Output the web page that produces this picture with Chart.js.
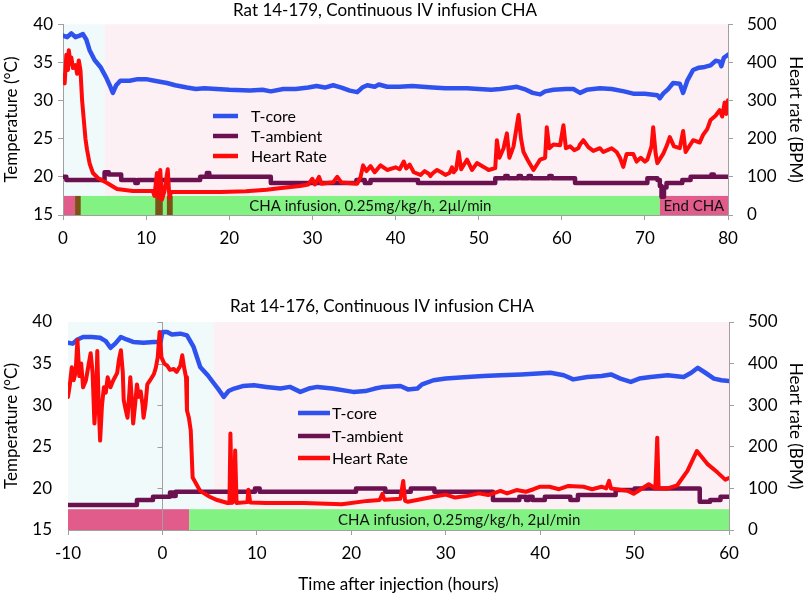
<!DOCTYPE html>
<html><head><meta charset="utf-8">
<script src="https://cdn.jsdelivr.net/npm/chart.js@4.4.0/dist/chart.umd.min.js"></script>
<style>
html,body{margin:0;padding:0;background:#fff;width:806px;height:595px;overflow:hidden}
canvas{position:absolute;left:0}
#c1{top:0} #c2{top:265px}
</style></head><body>
<canvas id="c1" width="806" height="265"></canvas>
<canvas id="c2" width="806" height="330"></canvas>
<script>
// ---------------- shared ----------------
const tempTicks = [15, 20, 25, 30, 35, 40];
const hrTicks = [0, 100, 200, 300, 400, 500];
const legendLabels = ['T-core', 'T-ambient', 'Heart Rate'];
const barTopBpm = 50;
const infusionLabel = 'CHA infusion, 0.25mg/kg/h, 2µl/min';
const endLabel = 'End CHA';

// ---------------- Panel A: Rat 14-179 ----------------
const aTitle = 'Rat 14-179, Continuous IV infusion CHA';
const aXTicks = [0, 10, 20, 30, 40, 50, 60, 70, 80];
const aCoreT = [0,0.5,1,1.5,2,2.4,2.8,3.2,3.8,4.5,5.2,5.7,6.0,6.4,6.9,8,9,10,11,12.5,13.5,14.9,16,17,18.5,20,22.5,24,25,26.5,28,29.5,30.5,31.5,32.5,33.5,34.5,35.4,36,36.6,37.5,38,39,40.5,42,44.5,46,48.6,50,51.5,52.6,54,54.6,55.5,56.5,57.4,58,59,60.5,61.4,62.2,63,64.6,66,67.5,68.6,70,71.5,71.8,72.2,72.8,73.4,74.2,74.6,75.1,75.8,76.5,77.2,77.9,78.5,79,79.2,79.5,80];
const aCore  = [38.5,38.3,38.8,38.3,38.5,38.7,38.0,36.6,35.3,34.4,33.0,31.8,31.0,32.0,32.6,32.6,32.8,32.8,32.6,32.3,32.0,31.7,31.5,31.6,31.5,31.4,31.3,31.4,31.2,31.5,31.5,31.7,31.9,31.7,32.0,31.7,31.3,31.1,31.7,32.0,31.8,32.1,31.8,31.8,31.9,31.7,31.6,31.6,31.5,31.4,31.5,31.7,31.8,31.5,31.0,30.8,31.2,31.4,31.5,31.5,31.0,31.4,31.6,31.5,31.2,30.9,30.9,30.7,30.3,30.9,31.5,32.3,32.2,31.0,32.6,34.0,34.3,34.4,34.6,35.2,35.1,34.5,35.6,36.0];
const aAmbT = [0,0.4,5,5.5,7,8.7,9,16.5,17.3,17.6,25,35.3,36.3,37,42.7,52,53.2,53.5,54.8,55.1,56,56.3,58.5,58.8,61.6,70.3,71.5,71.8,72,72.3,72.6,74.5,75.5,78,78.3,80];
const aAmb  = [20.0,19.6,20.6,20.3,19.6,19.2,19.6,20.0,20.5,20.0,19.2,19.6,19.2,19.6,19.2,19.8,20.1,19.8,20.1,19.8,20.1,19.8,20.1,19.8,19.2,19.8,19.6,18.8,17.4,18.6,19.2,19.6,20.0,20.3,20.0,20.0];
const aHrT = [0,0.2,0.4,0.6,0.7,0.9,1.0,1.2,1.5,1.7,1.9,2.1,2.3,2.5,2.7,2.9,3.2,3.6,4.2,5.3,6.5,8.4,10.8,11.0,11.3,11.5,11.7,11.9,12.2,12.6,12.8,13.0,16,19,22,24.5,26,28.5,29.5,30,30.3,30.8,31.1,32.5,33,33.5,35.4,35.8,36.1,36.5,37,37.5,38.2,39,40,40.5,41,41.3,41.7,42.2,43,43.5,44,44.2,44.5,45,45.5,46,46.5,46.8,47,47.3,47.6,47.9,48.6,49.2,49.8,50.6,51.2,52,52.2,52.5,53,53.4,53.7,54.2,54.8,55.1,55.4,56,56.6,57.1,57.4,58,58.2,58.5,59,59.8,60.2,60.5,61,61.5,62,62.2,62.6,63.2,63.8,64.6,65,65.5,66,66.6,67,67.4,67.8,68.6,69,69.5,70,70.3,70.8,71,71.3,71.5,72.2,72.6,73,73.5,74.2,74.6,74.9,75.8,76.6,77,77.5,77.9,78.5,79,79.3,79.6,79.8,80];
const aHr  = [366,345,420,380,432,395,413,385,393,370,405,380,300,250,200,170,135,110,97,84,68,63,63,50,110,45,118,40,62,120,45,60,60,60,62,66,70,76,80,95,80,100,82,86,100,85,82,100,130,115,128,112,130,118,125,120,140,122,132,112,105,115,108,102,110,118,112,105,110,125,112,120,165,120,145,118,136,126,118,123,196,150,175,214,150,180,262,200,165,140,118,135,145,150,230,175,185,183,235,175,180,170,175,185,196,178,168,175,165,170,175,165,150,126,160,160,140,150,140,145,180,230,160,136,160,180,204,180,175,220,165,196,190,210,225,249,260,275,258,295,265,301];
const aPhases = [[0, 5, 'pre'], [5, 80, 'post']];
const aBars = [[0, 1.45, 'off'], [1.45, 2.15, 'bolus'], [2.15, 71.8, 'cha'], [11.1, 12.0, 'bolus'], [12.5, 13.2, 'bolus'], [71.8, 80, 'off']];
const aBarText = [[infusionLabel, 2.15, 71.8], [endLabel, 71.8, 80]];

// ---------------- Panel B: Rat 14-176 ----------------
const bTitle = 'Rat 14-176, Continuous IV infusion CHA';
const bXTicks = [-10, 0, 10, 20, 30, 40, 50, 60];
const bCoreT = [-10,-9.5,-9,-8.4,-7.5,-6.6,-6,-5.5,-5,-4.4,-3.8,-3.1,-2,-0.9,-0.2,0,0.5,1,1.9,2.6,3.3,4.0,4.8,5.4,6,6.5,7,7.6,8.5,9.7,11,12.5,13.5,14.6,15.5,16.4,18,20.2,21.5,22.5,23.4,25.2,26,27,27.5,28.7,30,32.3,34,35.8,38,41.1,42.5,43.5,45,46.5,47.5,48.5,49.6,50.5,51.7,53.5,55.2,56.0,56.7,57.5,58.4,59.2,60];
const bCore  = [37.5,37.4,37.9,38.2,38.2,38.1,37.7,36.9,37.4,38.2,37.9,37.6,37.5,37.6,37.6,38.8,38.8,38.5,38.6,38.4,37.0,34.6,33.6,32.7,31.8,31.0,31.7,32.0,32.3,32.4,32.2,32.0,32.2,31.6,32.0,32.2,32.0,31.6,31.7,32.0,32.2,32.3,31.9,32.0,32.5,33.0,33.2,33.4,33.5,33.6,33.7,33.9,33.6,33.1,33.4,33.5,33.7,33.2,32.8,33.2,33.4,33.6,33.4,33.9,34.5,33.9,33.2,33.0,32.9];
const bAmbT = [-10,-2.7,-1,0.5,0.8,1.1,1.4,9.8,10.3,20.5,23.6,26.3,28.8,35,37.8,38.5,38.8,39.2,40.5,43.2,44,48,50,56.9,58,59.1,60];
const bAmb  = [18.0,18.6,19.0,19.0,19.5,19.1,19.6,20.0,19.6,20.0,19.6,20.0,19.6,18.6,19.0,18.6,19.0,18.6,19.0,18.6,19.2,19.8,20.0,18.4,18.6,19.0,19.0];
const bHrT = [-10,-9.8,-9.6,-9.4,-9.2,-9.0,-8.8,-8.6,-8.4,-8.1,-7.8,-7.6,-7.4,-7.2,-7.0,-6.9,-6.75,-6.6,-6.4,-6.2,-6.0,-5.8,-5.5,-5.2,-4.8,-4.6,-4.4,-4.2,-4.1,-3.9,-3.7,-3.5,-3.4,-3.2,-3.1,-2.9,-2.7,-2.5,-2.3,-2.1,-2.0,-1.8,-1.6,-1.3,-0.9,-0.7,-0.5,-0.3,-0.1,0.2,0.5,0.8,1.2,1.5,1.9,2.1,2.3,2.5,2.6,2.8,3.0,3.2,3.6,4.0,5.0,5.8,6.9,7.1,7.2,7.35,7.6,7.7,7.85,9.0,9.1,9.3,11,15,19,21.7,23,23.3,23.5,25.2,25.5,25.7,26,28.7,30,31,32.3,33.5,34.5,35.8,36.5,37.5,38.5,39.3,40,41,42,43,44.6,45.5,46.5,47,47.3,47.5,49.3,49.9,51.5,52.2,52.4,52.55,53.5,54.5,55.6,56.6,57.7,58.8,59.6,60];
const bHr  = [320,350,391,360,378,457,370,400,343,360,400,425,380,256,330,430,300,215,300,343,330,367,343,360,377,410,432,380,312,290,270,330,367,300,256,300,350,320,333,300,270,300,350,360,375,390,415,476,415,400,395,385,387,380,395,420,390,367,287,270,239,126,110,94,80,72,65,65,232,65,70,191,65,67,97,66,65,65,62,70,72,87,73,75,118,70,68,80,85,78,82,88,84,94,88,96,92,98,104,104,98,106,104,98,104,100,118,100,94,87,110,100,222,100,100,107,142,190,159,138,121,125];
const bPhases = [[-10, 5.4, 'pre'], [5.4, 60, 'post']];
const bBars = [[-10, 2.85, 'off'], [2.85, 60, 'cha']];
const bBarText = [[infusionLabel, 2.85, 60]];

// ---------------- styles ----------------
const FONT = 'Lato, "Open Sans", sans-serif';
const COL = { core: '#2F52EE', amb: '#6B1150', hr: '#FF0A0A', axis: '#A0A0A0', text: '#000' };
const SHADE = { pre: '#F0FAFB', post: '#FCF0F5' };
const BARCOL = { off: '#E25C8B', bolus: '#7A5414', cha: '#82F282' };

const pts = (xs, ys) => xs.map((x, i) => ({ x, y: ys[i] }));
const setTicks = arr => s => { s.ticks = arr.map(v => ({ value: v })); };

const panelPlugin = {
  id: 'panel',
  beforeDraw(chart, args, o) {
    const { ctx, chartArea: a, scales: { x, y1 } } = chart;
    ctx.save();
    o.phases.forEach(([s, e, k]) => {
      const x0 = x.getPixelForValue(s), x1 = x.getPixelForValue(e);
      ctx.fillStyle = SHADE[k];
      ctx.fillRect(x0, a.top, x1 - x0, a.bottom - a.top);
    });
    const yt = y1.getPixelForValue(barTopBpm), yb = y1.getPixelForValue(0);
    o.bars.forEach(([s, e, k]) => {
      const x0 = x.getPixelForValue(s), x1 = x.getPixelForValue(e);
      ctx.fillStyle = BARCOL[k];
      ctx.fillRect(x0, yt, x1 - x0, yb - yt);
    });
    ctx.fillStyle = '#111';
    ctx.font = '15px ' + FONT;
    ctx.textAlign = 'center';
    ctx.textBaseline = 'middle';
    o.barText.forEach(([t, s, e]) => {
      ctx.fillText(t, (x.getPixelForValue(s) + x.getPixelForValue(e)) / 2, (yt + yb) / 2 + 1);
    });
    ctx.restore();
  },
  beforeDatasetsDraw(chart, args, o) {
    if (!o.zeroAxis) return;
    const { ctx, chartArea: a, scales: { x, y } } = chart;
    const px = Math.round(x.getPixelForValue(0)) + 0.5;
    ctx.save();
    ctx.strokeStyle = COL.axis; ctx.lineWidth = 1;
    ctx.beginPath(); ctx.moveTo(px, a.top); ctx.lineTo(px, a.bottom);
    tempTicks.forEach(v => { const py = Math.round(y.getPixelForValue(v)) + 0.5; ctx.moveTo(px - 5, py); ctx.lineTo(px, py); });
    ctx.stroke();
    ctx.restore();
  },
  afterDraw(chart, args, o) {
    const { ctx } = chart;
    ctx.save();
    ctx.fillStyle = COL.text;
    ctx.font = '17px ' + FONT;
    ctx.textAlign = 'center'; ctx.textBaseline = 'middle';
    ctx.fillText(o.title, o.titleX, o.titleY);
    const cols = [COL.core, COL.amb, COL.hr];
    ctx.font = '16px ' + FONT; ctx.textAlign = 'left';
    legendLabels.forEach((t, i) => {
      const yy = o.legY[i];
      ctx.strokeStyle = cols[i]; ctx.lineWidth = 4.5; ctx.lineCap = 'butt';
      ctx.beginPath(); ctx.moveTo(o.legX0, yy); ctx.lineTo(o.legX1, yy); ctx.stroke();
      ctx.fillText(t, o.legTX, yy + 1);
    });
    ctx.restore();
  }
};

function makeChart(id, cfg) {
  const tickFont = { family: FONT, size: 17 };
  return new Chart(document.getElementById(id), {
    type: 'line',
    data: {
      datasets: [
        { label: 'Heart Rate', data: pts(cfg.hrT, cfg.hr), yAxisID: 'y1', borderColor: COL.hr, borderWidth: 4 },
        { label: 'T-ambient', data: pts(cfg.ambT, cfg.amb), yAxisID: 'y', borderColor: COL.amb, borderWidth: 4.5, stepped: true },
        { label: 'T-core', data: pts(cfg.coreT, cfg.core), yAxisID: 'y', borderColor: COL.core, borderWidth: 4.5 }
      ]
    },
    options: {
      responsive: false, animation: false, devicePixelRatio: 1,
      elements: { point: { radius: 0 }, line: { tension: 0, borderJoinStyle: 'round', borderCapStyle: 'round' } },
      layout: { padding: { top: cfg.top, left: 0, right: 0, bottom: 0 } },
      plugins: {
        legend: { display: false }, tooltip: { enabled: false },
        panel: cfg.panel
      },
      scales: {
        x: {
          type: 'linear', min: cfg.xTicks[0], max: cfg.xTicks[cfg.xTicks.length - 1],
          afterBuildTicks: setTicks(cfg.xTicks),
          ticks: { font: tickFont, color: COL.text, padding: cfg.xPad, maxRotation: 0 },
          grid: { drawOnChartArea: false, tickLength: 5, color: COL.axis },
          border: { color: COL.axis },
          title: cfg.xTitle ? { display: true, text: cfg.xTitle, font: { family: FONT, size: 17 }, color: COL.text, padding: { top: 0, bottom: 0 } } : { display: false },
          afterFit: s => { s.height = cfg.xH; }
        },
        y: {
          position: 'left', min: 15, max: 40,
          afterBuildTicks: setTicks(tempTicks),
          ticks: { font: tickFont, color: COL.text, padding: cfg.yPad },
          grid: cfg.leftAxis ? { drawOnChartArea: false, tickLength: 5, color: COL.axis } : { display: false },
          border: { display: cfg.leftAxis, color: COL.axis },
          title: { display: true, text: 'Temperature (°C)', font: { family: FONT, size: 17 }, color: COL.text, padding: { top: 1, bottom: 0 } },
          afterFit: s => { s.width = cfg.left; }
        },
        y1: {
          position: 'right', min: 0, max: 500,
          afterBuildTicks: setTicks(hrTicks),
          ticks: { font: tickFont, color: COL.text, padding: 14 },
          grid: { drawOnChartArea: false, tickLength: 5, color: COL.axis },
          border: { color: COL.axis },
          title: { display: true, text: 'Heart rate (BPM)', font: { family: FONT, size: 17 }, color: COL.text, padding: { top: 0, bottom: 0 } },
          afterFit: s => { s.width = 806 - cfg.right; }
        }
      }
    },
    plugins: [panelPlugin]
  });
}

makeChart('c1', {
  coreT: aCoreT, core: aCore, ambT: aAmbT, amb: aAmb, hrT: aHrT, hr: aHr, xTicks: aXTicks,
  top: 24, left: 63, right: 728, xH: 50, xPad: 8, yPad: 5, leftAxis: true, xTitle: null,
  panel: { phases: aPhases, bars: aBars, barText: aBarText, title: aTitle, titleX: 385, titleY: 11,
           legX0: 213, legX1: 238, legTX: 251, legY: [116, 136, 156], zeroAxis: false }
});
makeChart('c2', {
  coreT: bCoreT, core: bCore, ambT: bAmbT, amb: bAmb, hrT: bHrT, hr: bHr, xTicks: bXTicks,
  top: 57, left: 68, right: 729, xH: 65, xPad: 8, yPad: 8, leftAxis: false, xTitle: 'Time after injection (hours)',
  panel: { phases: bPhases, bars: bBars, barText: bBarText, title: bTitle, titleX: 382, titleY: 42,
           legX0: 298, legX1: 330, legTX: 332, legY: [148, 171, 193], zeroAxis: true }
});
</script>
</body></html>
